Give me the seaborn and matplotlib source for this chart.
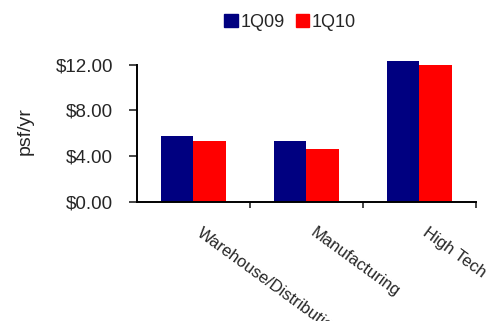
import matplotlib
matplotlib.use("Agg")
import matplotlib.pyplot as plt
import matplotlib.transforms as mtransforms
import seaborn as sns
import pandas as pd
from matplotlib.ticker import FixedLocator, FuncFormatter

# values (psf/yr)
categories = ["Warehouse/Distribution", "Manufacturing", "High Tech"]
series = ["1Q09", "1Q10"]
rent_1q09 = [5.75, 5.30, 12.30]
rent_1q10 = [5.30, 4.60, 11.95]
colors = ["#000080", "#FF0000"]
yticks = [0, 4, 8, 12]

df = pd.DataFrame({
    "category": categories * 2,
    "period": [series[0]] * 3 + [series[1]] * 3,
    "rent": rent_1q09 + rent_1q10,
})

sns.set_style("white")
plt.rcParams["font.family"] = ["Liberation Sans", "DejaVu Sans"]

fig = plt.figure(figsize=(5.01, 3.21), dpi=100)
ax = fig.add_axes([0.273, 0.372, 0.677, 0.441])

sns.barplot(data=df, x="category", y="rent", hue="period", order=categories,
            hue_order=series, palette=colors, width=0.58, saturation=1,
            linewidth=0, errorbar=None, ax=ax)

ax.set_xlim(-0.5, 2.5)
ax.set_ylim(0, 12.4)
ax.spines["left"].set_bounds(0, 12)
for s in ["top", "right"]:
    ax.spines[s].set_visible(False)
for s in ["left", "bottom"]:
    ax.spines[s].set_linewidth(1.4)
    ax.spines[s].set_color("black")

ax.yaxis.set_major_locator(FixedLocator(yticks))
ax.yaxis.set_major_formatter(FuncFormatter(lambda v, p: f"${v:.2f}"))
ax.tick_params(axis="y", direction="out", length=6, width=1.2, left=True,
               labelsize=13.5, pad=11)

# tick marks between categories, labels at centres
ax.set_xticks([0, 1, 2])
ax.set_xticks([0.5, 1.5, 2.5], minor=True)
ax.tick_params(axis="x", which="major", length=0, pad=17)
ax.tick_params(axis="x", which="minor", direction="out", length=4, width=1.2,
               bottom=True)
ax.set_xticklabels(categories, rotation=-36, ha="left", va="top",
                   rotation_mode="anchor", fontsize=12)
shift = mtransforms.ScaledTranslation(7 / 72, 0, fig.dpi_scale_trans)
for lbl in ax.get_xticklabels():
    lbl.set_transform(lbl.get_transform() + shift)

ax.set_xlabel("")
ax.set_ylabel("psf/yr", fontsize=14)
ax.yaxis.set_label_coords(-0.305, 0.5)

ax.get_legend().remove()
handles = [plt.Rectangle((0, 0), 1, 1, color=c) for c in colors]
fig.legend(handles, series, loc="center", bbox_to_anchor=(0.579, 0.931), ncol=2,
           frameon=False, fontsize=13, handlelength=0.75, handleheight=0.8,
           handletextpad=0.15, columnspacing=0.6)

fig.savefig("out.png", dpi=100)
